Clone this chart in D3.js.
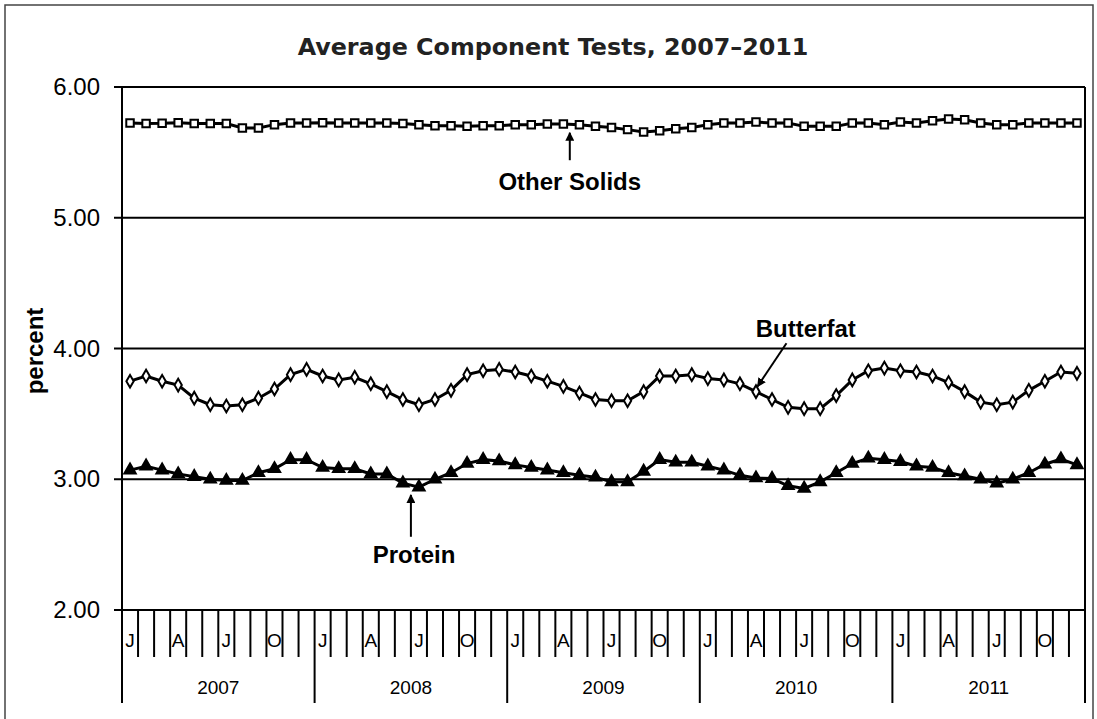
<!DOCTYPE html>
<html>
<head>
<meta charset="utf-8">
<script src="https://cdnjs.cloudflare.com/ajax/libs/d3/7.8.5/d3.min.js"></script>
<style>
  body { margin: 0; background: #fff; }
  text { font-family: "Liberation Sans", Arial, sans-serif; fill: #000; }
</style>
</head>
<body>
<svg id="chart" width="1097" height="719"></svg>
<script>
'use strict';

const years = ['2007', '2008', '2009', '2010', '2011'];
const monthLetters = ['J', '', '', 'A', '', '', 'J', '', '', 'O', '', ''];
const yTicks = [2, 3, 4, 5, 6];

const otherSolids = [
  5.725, 5.72, 5.722, 5.727, 5.72, 5.72, 5.72, 5.686, 5.686, 5.712, 5.725, 5.725,
  5.727, 5.725, 5.725, 5.725, 5.725, 5.72, 5.712, 5.704, 5.704, 5.699, 5.704, 5.704,
  5.712, 5.712, 5.717, 5.717, 5.712, 5.699, 5.69, 5.674, 5.656, 5.666, 5.681, 5.691,
  5.712, 5.725, 5.725, 5.732, 5.725, 5.725, 5.699, 5.699, 5.699, 5.725, 5.725, 5.712,
  5.732, 5.725, 5.742, 5.755, 5.75, 5.725, 5.712, 5.712, 5.725, 5.725, 5.725, 5.725,
];
const butterfat = [
  3.75, 3.79, 3.75, 3.72, 3.62, 3.57, 3.56, 3.57, 3.62, 3.69, 3.80, 3.84,
  3.79, 3.76, 3.78, 3.73, 3.67, 3.61, 3.57, 3.61, 3.68, 3.80, 3.83, 3.84,
  3.82, 3.79, 3.75, 3.71, 3.66, 3.61, 3.60, 3.60, 3.67, 3.79, 3.79, 3.80,
  3.77, 3.76, 3.73, 3.67, 3.61, 3.55, 3.54, 3.54, 3.64, 3.76, 3.83, 3.85,
  3.83, 3.82, 3.79, 3.74, 3.67, 3.59, 3.57, 3.59, 3.68, 3.75, 3.82, 3.81,
];
const protein = [
  3.07, 3.10, 3.07, 3.04, 3.02, 3.00, 2.99, 2.99, 3.05, 3.08, 3.15, 3.15,
  3.09, 3.08, 3.08, 3.04, 3.04, 2.97, 2.94, 3.00, 3.05, 3.12, 3.15, 3.14,
  3.11, 3.09, 3.07, 3.05, 3.03, 3.015, 2.98, 2.98, 3.06, 3.15, 3.13, 3.13,
  3.10, 3.07, 3.03, 3.01, 3.005, 2.95, 2.93, 2.98, 3.05, 3.12, 3.16, 3.15,
  3.135, 3.10, 3.09, 3.05, 3.025, 3.00, 2.97, 3.00, 3.05, 3.115, 3.155, 3.11,
];

// annotation anchors in data space: month index and percent value
const noteNames = ['Other Solids', 'Butterfat', 'Protein'];
const noteTipMonth = [27.4, 39.1, 17.5];
const noteTipValue = [5.65, 3.71, 2.88];
const noteTailMonth = [27.4, 40.9, 17.5];
const noteTailValue = [5.44, 4.04, 2.56];
const noteTextMonth = [27.4, 42.1, 17.7];
const noteTextValue = [5.21, 4.09, 2.36];

function makeChart() {
  const svg = d3.select('#chart');
  const months = d3.range(years.length * 12);

  const x = d3.scaleBand().domain(months).range([122, 1085]);
  const y = d3.scaleLinear().domain([2, 6]).range([610, 87]);
  const xm = (m) => x.range()[0] + (m + 0.5) * x.step();

  // outer frame
  svg.append('rect')
    .attr('x', 5).attr('y', 5)
    .attr('width', 1088).attr('height', 730)
    .attr('fill', 'none')
    .attr('stroke', '#444')
    .attr('stroke-width', 1.5);

  svg.append('text')
    .attr('x', 553).attr('y', 55)
    .attr('text-anchor', 'middle')
    .style('font-family', '"DejaVu Sans", Verdana, sans-serif')
    .style('font-weight', 'bold')
    .style('font-size', '23.8px')
    .style('fill', '#222')
    .text('Average Component Tests, 2007\u20132011');

  // horizontal grid and y axis
  svg.append('g').selectAll('line')
    .data(yTicks)
    .enter().append('line')
    .attr('x1', 114).attr('x2', 1085)
    .attr('y1', (d) => y(d)).attr('y2', (d) => y(d))
    .attr('stroke', '#000')
    .attr('stroke-width', 2);

  svg.append('g').selectAll('text')
    .data(yTicks)
    .enter().append('text')
    .attr('x', 100)
    .attr('y', (d) => y(d) + 8)
    .attr('text-anchor', 'end')
    .style('font-size', '24px')
    .text((d) => d.toFixed(2));

  svg.append('line')
    .attr('x1', 122).attr('x2', 122)
    .attr('y1', y(6)).attr('y2', 703)
    .attr('stroke', '#000').attr('stroke-width', 2);
  svg.append('line')
    .attr('x1', 1085).attr('x2', 1085)
    .attr('y1', y(6)).attr('y2', 703)
    .attr('stroke', '#000').attr('stroke-width', 2);

  svg.append('text')
    .attr('transform', 'translate(43,351) rotate(-90)')
    .attr('text-anchor', 'middle')
    .style('font-size', '24px')
    .style('font-weight', 'bold')
    .text('percent');

  // category ticks: month boundaries short, year boundaries long
  const bounds = d3.range(1, months.length);
  svg.append('g').selectAll('line')
    .data(bounds)
    .enter().append('line')
    .attr('x1', (d) => x(d)).attr('x2', (d) => x(d))
    .attr('y1', y(2))
    .attr('y2', (d) => d % 12 === 0 ? 703 : 657)
    .attr('stroke', '#000')
    .attr('stroke-width', 2);

  svg.append('g').selectAll('text')
    .data(months.filter((m) => monthLetters[m % 12]))
    .enter().append('text')
    .attr('x', (d) => xm(d))
    .attr('y', 647)
    .attr('text-anchor', 'middle')
    .style('font-size', '19px')
    .text((d) => monthLetters[d % 12]);

  svg.append('g').selectAll('text')
    .data(years)
    .enter().append('text')
    .attr('x', (d, i) => xm(i * 12 + 5.5))
    .attr('y', 694)
    .attr('text-anchor', 'middle')
    .style('font-size', '19px')
    .text((d) => d);

  // series
  const line = d3.line().x((d, i) => xm(i)).y((d) => y(d));
  const series = [
    { values: otherSolids, symbol: d3.symbolSquare, size: 56, fill: '#fff' },
    { values: butterfat, symbol: d3.symbolDiamond, size: 46, fill: '#fff' },
    { values: protein, symbol: d3.symbolTriangle, size: 56, fill: '#000' },
  ];

  for (const s of series) {
    svg.append('path')
      .datum(s.values)
      .attr('d', line)
      .attr('fill', 'none')
      .attr('stroke', '#000')
      .attr('stroke-width', 3);

    svg.append('g').selectAll('path')
      .data(s.values)
      .enter().append('path')
      .attr('transform', (d, i) => `translate(${xm(i)},${y(d)})`)
      .attr('d', d3.symbol().type(s.symbol).size(s.size))
      .attr('fill', s.fill)
      .attr('stroke', '#000')
      .attr('stroke-width', 2);
  }

  // annotations with arrows
  const defs = svg.append('defs');
  defs.append('marker')
    .attr('id', 'head')
    .attr('viewBox', '0 0 10 10')
    .attr('refX', 9).attr('refY', 5)
    .attr('markerWidth', 4.5).attr('markerHeight', 4.5)
    .attr('orient', 'auto')
    .append('path')
    .attr('d', 'M0,0L10,5L0,10z')
    .attr('fill', '#000');

  noteNames.forEach((name, i) => {
    svg.append('line')
      .attr('x1', xm(noteTailMonth[i])).attr('y1', y(noteTailValue[i]))
      .attr('x2', xm(noteTipMonth[i])).attr('y2', y(noteTipValue[i]))
      .attr('stroke', '#000')
      .attr('stroke-width', 2)
      .attr('marker-end', 'url(#head)');

    svg.append('text')
      .attr('x', xm(noteTextMonth[i]))
      .attr('y', y(noteTextValue[i]))
      .attr('text-anchor', 'middle')
      .style('font-size', '24px')
      .style('font-weight', 'bold')
      .text(name);
  });
}

makeChart();
</script>
</body>
</html>
